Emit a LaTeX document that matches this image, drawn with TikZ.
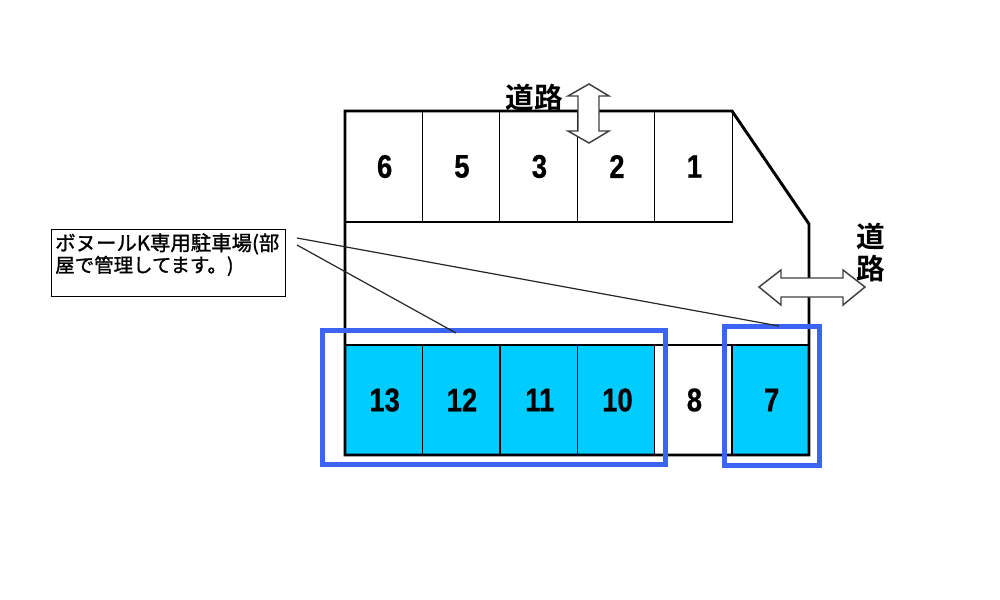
\documentclass[tikz,border=0pt]{standalone}
\usepackage{fontspec}
\newfontfamily\jpbold{Noto Sans CJK JP Bold}
\newfontfamily\jpreg[FakeBold=1.2]{Noto Sans CJK JP}
\newfontfamily\numfont[FakeStretch=0.84,FakeBold=0.6]{Liberation Sans Bold}
\definecolor{slotblue}{HTML}{00CCFF}
\definecolor{frameblue}{HTML}{3B64F2}
\newcommand{\numlabel}[1]{\raisebox{-1.9pt}{\hspace{1.4pt}#1}}
\tikzset{
  cell/.style={draw=black,line width=0.9pt,minimum width=58pt,inner sep=0pt,outer sep=0pt,font=\numfont\fontsize{24.5}{24.5}\selectfont},
  topcell/.style={cell,minimum height=83.25pt},
  botcell/.style={cell,minimum height=82.5pt},
  paid/.style={botcell,fill=slotblue},
  free/.style={botcell,fill=white},
  outline/.style={draw=black,line width=2.2pt,line join=miter},
  frame/.style={draw=frameblue,line width=3.75pt},
  roadlabel/.style={font=\jpbold\fontsize{21.5}{21.5}\selectfont,inner sep=0pt},
  roadarrow/.style={draw=black!75,fill=white,line width=1.1pt,line join=miter},
  leader/.style={draw=black!85,line width=0.9pt},
  callout/.style={draw=black,fill=white,line width=1.1pt,minimum width=175.5pt,minimum height=50pt,inner sep=0pt}
}
\begin{document}
\begin{tikzpicture}[x=0.75pt,y=-0.75pt]
\useasboundingbox (0,0) rectangle (1000,600);
\fill[white] (0,0) rectangle (1000,600);
% top row
\node[topcell] (s6) at (383.7,166.5) {\numlabel{6}};
\node[topcell] (s5) at (461,166.5) {\numlabel{5}};
\node[topcell] (s3) at (538.5,166.5) {\numlabel{3}};
\node[topcell] (s2) at (616,166.5) {\numlabel{2}};
\node[topcell] (s1) at (693.5,166.5) {\numlabel{1}};
% bottom row
\node[paid] (s13) at (383.7,400) {\numlabel{13}};
\node[paid] (s12) at (461,400) {\numlabel{12}};
\node[paid] (s11) at (538.8,400) {\numlabel{11}};
\node[paid] (s10) at (616.5,400) {\numlabel{10}};
\node[free] (s8) at (693.5,400) {\numlabel{8}};
\node[paid] (s7) at (770.7,400) {\numlabel{7}};
% outline of the lot
\coordinate (nw) at (345,111);
\coordinate (ne) at (732,111);
\coordinate (eb) at (809,224);
\coordinate (se) at (809,455);
\coordinate (sw) at (345,455);
\draw[outline] (nw) -- (ne) -- (eb) -- (se) -- (sw) -- cycle;
% callout
\node[callout,anchor=north west] (note) at (51,229) {};
\node[anchor=north west,inner sep=0pt,align=left,font=\jpreg] (notetext) at (55,233) {\fontsize{15.3}{18.5}\selectfont ボヌールK専用駐車場(部\\\fontsize{14.6}{18.5}\selectfont 屋で管理してます。)};
% blue frames
\draw[frame] (322.5,330) rectangle (665.5,464);
\draw[frame] (724,326.5) rectangle (819.5,465.5);
% leaders
\coordinate (la) at (297,238);
\coordinate (lb) at (297,245);
\coordinate (ta) at (779,326);
\coordinate (tb) at (456,333);
\draw[leader] (la) -- (ta);
\draw[leader] (lb) -- (tb);
% road arrows
\draw[roadarrow] (589,84) -- (609,96) -- (599,96) -- (599,131) -- (609,131) -- (589,143) -- (568,131) -- (578,131) -- (578,96) -- (568,96) -- cycle;
\draw[roadarrow] (759,287) -- (781,270) -- (781,278) -- (843,278) -- (843,270) -- (865,287) -- (843,305) -- (843,297) -- (781,297) -- (781,305) -- cycle;
% road labels
\node[roadlabel] (roadtop) at (534,98) {道路};
\node[roadlabel] (roadr1) at (871,236) {道};
\node[roadlabel] (roadr2) at (871,269) {路};
\end{tikzpicture}
\end{document}
